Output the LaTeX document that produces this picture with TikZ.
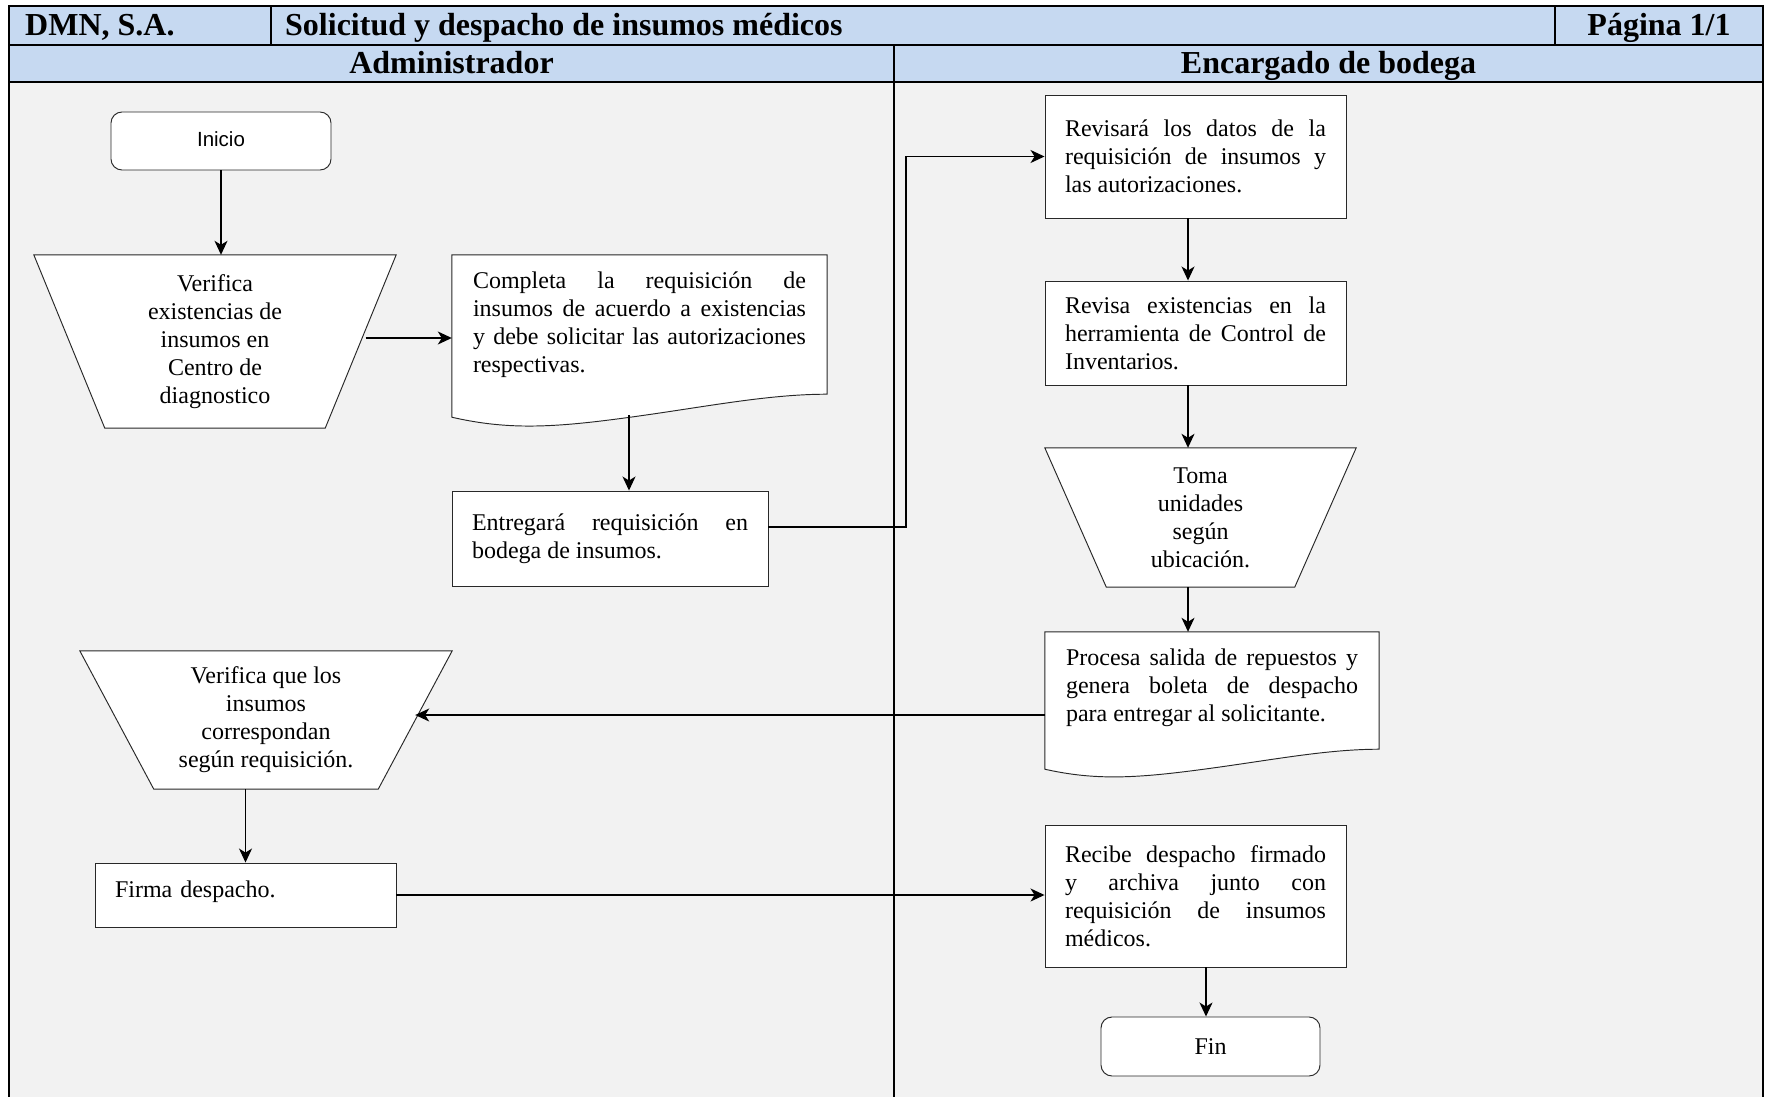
\documentclass[tikz,border=0pt]{standalone}
\usepackage{fontspec}
\setmainfont{Liberation Serif}
\newfontfamily\sansf{Liberation Sans}
\usetikzlibrary{arrows.meta,calc}
\definecolor{headblue}{RGB}{198,217,241}
\definecolor{bodygray}{RGB}{242,242,242}
\definecolor{boxline}{RGB}{40,40,40}
\pgfdeclarelayer{back}
\pgfsetlayers{back,main}
\tolerance=10000
\hyphenpenalty=10000
\exhyphenpenalty=10000
\tikzset{
  txt/.style={font=\fontsize{24}{28}\selectfont},
  hdr/.style={font=\bfseries\fontsize{32}{38}\selectfont, inner sep=0pt},
  procbox/.style={draw=boxline, line width=0.95pt, fill=white, txt, inner xsep=20pt, inner ysep=0pt, align=justify},
  docbox/.style={txt, inner xsep=21pt, inner ysep=0pt, align=justify},
  trapbox/.style={inner sep=0pt, txt, align=center},
  term/.style={draw=boxline, line width=0.95pt, fill=white, rounded corners=11pt, inner sep=0pt},
  arr/.style={draw=black, line width=1.3pt, -{Stealth[length=14pt,width=13pt,inset=4pt]}},
  docline/.style={draw=boxline, line width=0.95pt, fill=white},
  thinrule/.style={draw=black, line width=1.2pt},
  thickrule/.style={draw=black, line width=2.3pt},
}
\newcommand\mkdocshape[2]{%
  \path[docline] (#1.north west) -- (#1.north east) -- (#1.south east)
    .. controls ($(#1.south west)!0.821!(#1.south east)$) and ($(#1.south west)!0.635!(#1.south east)+(0,0.70*#2)$) ..
    ($(#1.south west)!0.395!(#1.south east)+(0,1.17*#2)$)
    .. controls ($(#1.south west)!0.235!(#1.south east)+(0,1.48*#2)$) and ($(#1.south west)!0.128!(#1.south east)+(0,1.48*#2)$) ..
    ($(#1.south west)+(0,#2)$) -- cycle;}
\newcommand\mktrap[2]{%
  \path[docline] (#1.north west) -- (#1.north east) -- ([xshift=-#2pt]#1.south east) -- ([xshift=#2pt]#1.south west) -- cycle;
  \coordinate (#1r) at ($(#1.north east)!0.5!([xshift=-#2pt]#1.south east)$);}
\begin{document}
\begin{tikzpicture}[x=1pt,y=-1pt]
\useasboundingbox (0,0) rectangle (1769,1097);
\begin{pgfonlayer}{back}
\fill[bodygray] (9,82) rectangle (1763,1097);
\fill[headblue] (9,6) rectangle (1763,82);
\draw[thinrule] (271,6) -- (271,45) (1555,6) -- (1555,45);
\draw[thickrule] (9,45) -- (1763,45) (9,82) -- (1763,82) (894,45) -- (894,1097);
\draw[thickrule] (9,1097) -- (9,6) -- (1763,6) -- (1763,1097);
\end{pgfonlayer}

% header texts
\node[hdr, anchor=base west] (hco) at (25,36) {DMN, S.A.};
\node[hdr, anchor=base west] (htit) at (285,36) {Solicitud y despacho de insumos médicos};
\node[hdr, anchor=base] (hpag) at (1659,36) {Página 1/1};
\node[hdr, anchor=base] (hadm) at (451.5,74) {Administrador};
\node[hdr, anchor=base] (henc) at (1328.5,74) {Encargado de bodega};

% flow nodes
\node[term, minimum width=220pt, minimum height=58pt, font=\sansf\fontsize{20.5}{24}\selectfont] (ini) at (221,141) {\raisebox{3.5pt}{Inicio}};
\node[trapbox, minimum width=362pt, minimum height=173pt] (t1) at (215,341.5) {Verifica\\existencias de\\insumos en\\Centro de\\diagnostico};
\node[docbox, text width=333pt, minimum width=375pt, minimum height=139pt] (comp) at (639.5,324.5) {Completa la requisición de\linebreak insumos de acuerdo a existencias\linebreak y debe solicitar las autorizaciones\linebreak respectivas.};
\node[procbox, text width=276pt, minimum height=95pt] (ent) at (610,538.5) {Entregará requisición en\linebreak bodega de insumos.};
\node[procbox, text width=261pt, minimum height=123pt] (rev1) at (1195.5,156.5) {Revisará los datos de la\linebreak requisición de insumos y\linebreak las autorizaciones.};
\node[procbox, text width=261pt, minimum height=104pt] (rev2) at (1195.5,333) {Revisa existencias en la\linebreak herramienta de Control de\linebreak Inventarios.};
\node[trapbox, minimum width=311pt, minimum height=139pt] (toma) at (1200.5,517.5) {Toma\\unidades\\según\\ubicación.};
\node[docbox, text width=292pt, minimum width=334pt, minimum height=117pt] (proc) at (1212,690.5) {Procesa salida de repuestos y\linebreak genera boleta de despacho\linebreak para entregar al solicitante.\vspace{5pt}};
\node[trapbox, minimum width=372pt, minimum height=138pt] (v2) at (266,720) {Verifica que los\\insumos\\correspondan\\según requisición.};
\node[procbox, text width=261pt, minimum height=64pt, align=left] (firma) at (245.5,895) {Firma despacho.\vspace{6pt}};
\node[procbox, text width=261pt, minimum height=142pt] (rec) at (1195.5,896) {Recibe despacho firmado\linebreak y archiva junto con\linebreak requisición de insumos\linebreak médicos.};
\node[term, minimum width=219pt, minimum height=59pt, txt] (fin) at (1210.5,1046.5) {Fin};

\begin{pgfonlayer}{back}
\mkdocshape{comp}{23}
\mkdocshape{proc}{20}
\mktrap{t1}{71}
\mktrap{toma}{61.5}
\mktrap{v2}{74}
\end{pgfonlayer}

% guide coordinates
\coordinate (gx1) at (1188,0);
\coordinate (gx2) at (1206,0);
\coordinate (cw) at (629,415);
\coordinate (elbow) at (906,527);
\coordinate (gy1) at (0,715);
\coordinate (gy0) at (0,338);

% connectors
\draw[arr] (ini.south) -- (ini.south |- t1.north);
\draw[arr] ([xshift=5pt]t1r |- gy0) -- (gy0 -| comp.west);
\draw[arr] (cw) -- (cw |- ent.north);
\draw[arr] (ent.east |- elbow) -- (elbow) |- (rev1.west);
\draw[arr] (rev1.south -| gx1) -- (rev2.north -| gx1);
\draw[arr] (rev2.south -| gx1) -- (toma.north -| gx1);
\draw[arr] (toma.south -| gx1) -- (proc.north -| gx1);
\draw[arr] (proc.west |- gy1) -- (v2r |- gy1);
\draw[arr] (v2.south -| firma.north) -- (firma.north);
\draw[arr] (firma.east) -- (firma.east -| rec.west);
\draw[arr] (rec.south -| gx2) -- (fin.north -| gx2);
\end{tikzpicture}
\end{document}
